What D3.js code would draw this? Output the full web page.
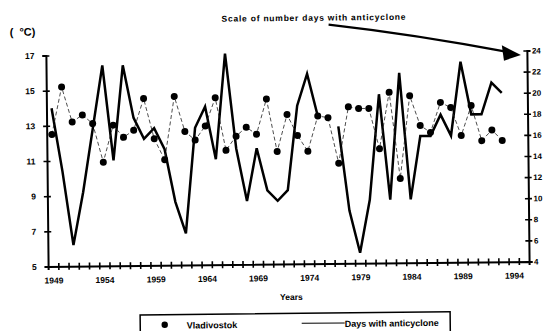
<!DOCTYPE html>
<html>
<head>
<meta charset="utf-8">
<script src="https://cdn.jsdelivr.net/npm/d3@7"></script>
<style>
    body { margin: 0; background: #fff; }
    svg { display: block; font-family: "Liberation Sans", Arial, sans-serif; font-weight: bold; }
</style>
</head>
<body>
<svg id="chart" width="544" height="331"></svg>
<script>
'use strict';

/* Data */

var years = d3.range(1949, 1994);
var vladivostok = [12.5, 15.2, 13.2, 13.6, 13.1, 10.9, 13.0, 12.3, 12.7, 14.5,
    12.2, 11.0, 14.6, 12.6, 12.1, 12.9, 14.5, 11.5, 12.3, 12.8,
    12.4, 14.4, 11.4, 13.5, 12.3, 11.4, 13.4, 13.3, 10.7, 13.9,
    13.8, 13.8, 11.5, 14.7, 9.8, 14.5, 12.8, 12.4, 14.1, 13.8,
    12.2, 13.9, 11.9, 12.5, 11.9];
var anticycloneDays = [19, 13, 6, 11, 17, 23, 14, 23, 18, 16,
    17, 15, 10, 7, 17, 19, 14, 24, 15, 10,
    15, 11, 10, 11, 19, 22, 18, null, 17, 9,
    5, 10, 20, 10, 22, 10, 16, 16, 18, 16,
    23, 18, 18, 21, 20];
var tempTicks = [5, 7, 9, 11, 13, 15, 17];
var dayTicks = [4, 6, 8, 10, 12, 14, 16, 18, 20, 22, 24];
var yearLabels = [1949, 1954, 1959, 1964, 1969, 1974, 1979, 1984, 1989, 1994];

var svg = d3.select('#chart');

// the scan is a little tilted, so the whole drawing is turned a bit
var root = svg.append('g').attr('transform', 'rotate(-0.6 287 160)');

var x = d3.scaleLinear().domain([1948.5, 1995.5]).range([47, 528]);
var yT = d3.scaleLinear().domain([5, 17]).range([264, 53]);
var yD = d3.scaleLinear().domain([4, 24]).range([264, 53]);

var crossTicks = function (sel, horizontal) {
    sel.selectAll('.tick line')
        .attr(horizontal ? 'x1' : 'y1', -3.5)
        .attr(horizontal ? 'x2' : 'y2', 3.5);
};

var styleAxis = function (sel, size) {
    sel.select('.domain').attr('stroke', '#000').attr('stroke-width', 2);
    sel.selectAll('.tick line').attr('stroke', '#000').attr('stroke-width', 1.6);
    sel.selectAll('text').attr('fill', '#000').attr('font-size', size || 8.5)
        .attr('font-family', '"Liberation Sans", Arial, sans-serif').attr('font-weight', 'bold');
};

// left axis
var leftAxis = root.append('g')
    .attr('transform', 'translate(47,0)')
    .call(d3.axisLeft(yT).tickValues(tempTicks).tickSizeOuter(0).tickSize(3.5).tickPadding(8));
crossTicks(leftAxis, true);
styleAxis(leftAxis);

// right axis, squeezed against the page edge
var rightAxis = root.append('g')
    .attr('transform', 'translate(528,0)')
    .call(d3.axisRight(yD).tickValues(dayTicks).tickSizeOuter(0).tickSize(3.5).tickPadding(1.5));
crossTicks(rightAxis, true);
styleAxis(rightAxis, 8);

// bottom axis: ticks between the years, labels on the years
var halfYears = d3.range(1949.5, 1995, 1);
var bottomAxis = root.append('g')
    .attr('transform', 'translate(0,264)')
    .call(d3.axisBottom(x).tickValues(halfYears).tickFormat('').tickSizeOuter(0).tickSize(3.5));
crossTicks(bottomAxis, false);
styleAxis(bottomAxis);

var labelAxis = root.append('g')
    .attr('transform', 'translate(0,264)')
    .call(d3.axisBottom(x).tickValues(yearLabels).tickFormat(d3.format('d')).tickSize(0).tickPadding(11));
labelAxis.select('.domain').remove();
styleAxis(labelAxis);

// days with anticyclone
var dayLine = d3.line()
    .defined(function (d) { return d.v != null; })
    .x(function (d) { return x(d.year); })
    .y(function (d) { return yD(d.v); });

var dayData = years.map(function (yr, i) { return {year: yr, v: anticycloneDays[i]}; });
var tempData = years.map(function (yr, i) { return {year: yr, v: vladivostok[i]}; });

root.append('path')
    .datum(dayData)
    .attr('fill', 'none')
    .attr('stroke', '#000')
    .attr('stroke-width', 2.5)
    .attr('stroke-linejoin', 'miter')
    .attr('d', dayLine);

// Vladivostok temperature, dashed connector + dots
var tempLine = d3.line()
    .x(function (d) { return x(d.year); })
    .y(function (d) { return yT(d.v); });

root.append('path')
    .datum(tempData)
    .attr('fill', 'none')
    .attr('stroke', '#222')
    .attr('stroke-width', 0.8)
    .attr('stroke-dasharray', '4,2.5')
    .attr('d', tempLine);

root.selectAll('circle.temp')
    .data(tempData)
    .enter().append('circle')
    .attr('class', 'temp')
    .attr('cx', function (d) { return x(d.year); })
    .attr('cy', function (d) { return yT(d.v); })
    .attr('r', 3.5)
    .attr('fill', '#000');

// texts
root.append('text')
    .attr('x', 11).attr('y', 33)
    .attr('font-size', 11)
    .style('white-space', 'pre')
    .text('(  \u00b0C)');

root.append('text')
    .attr('x', 223).attr('y', 21)
    .attr('font-size', 8.5)
    .attr('textLength', 184)
    .text('Scale of number days with anticyclone');

root.append('path')
    .attr('d', 'M330,25 Q418,36 507,54')
    .attr('fill', 'none')
    .attr('stroke', '#000')
    .attr('stroke-width', 2.2);

root.append('path')
    .attr('d', 'M522,57.5 L503,47.5 L505,63 Z')
    .attr('fill', '#000');

root.append('text')
    .attr('x', 290).attr('y', 300)
    .attr('text-anchor', 'middle')
    .attr('font-size', 8.5)
    .text('Years');

// legend
var legend = root.append('g');
legend.append('rect')
    .attr('x', 138.5).attr('y', 313.5)
    .attr('width', 310).attr('height', 40)
    .attr('fill', 'none')
    .attr('stroke', '#000')
    .attr('stroke-width', 1.5);
legend.append('circle')
    .attr('cx', 163).attr('cy', 323.5).attr('r', 3.2).attr('fill', '#000');
legend.append('text')
    .attr('x', 185).attr('y', 327.5)
    .attr('font-size', 9)
    .text('Vladivostok');
legend.append('line')
    .attr('x1', 300).attr('x2', 343)
    .attr('y1', 323.5).attr('y2', 323.5)
    .attr('stroke', '#000').attr('stroke-width', 1);
legend.append('text')
    .attr('x', 343).attr('y', 327.5)
    .attr('font-size', 9)
    .text('Days with anticyclone');
</script>
</body>
</html>
